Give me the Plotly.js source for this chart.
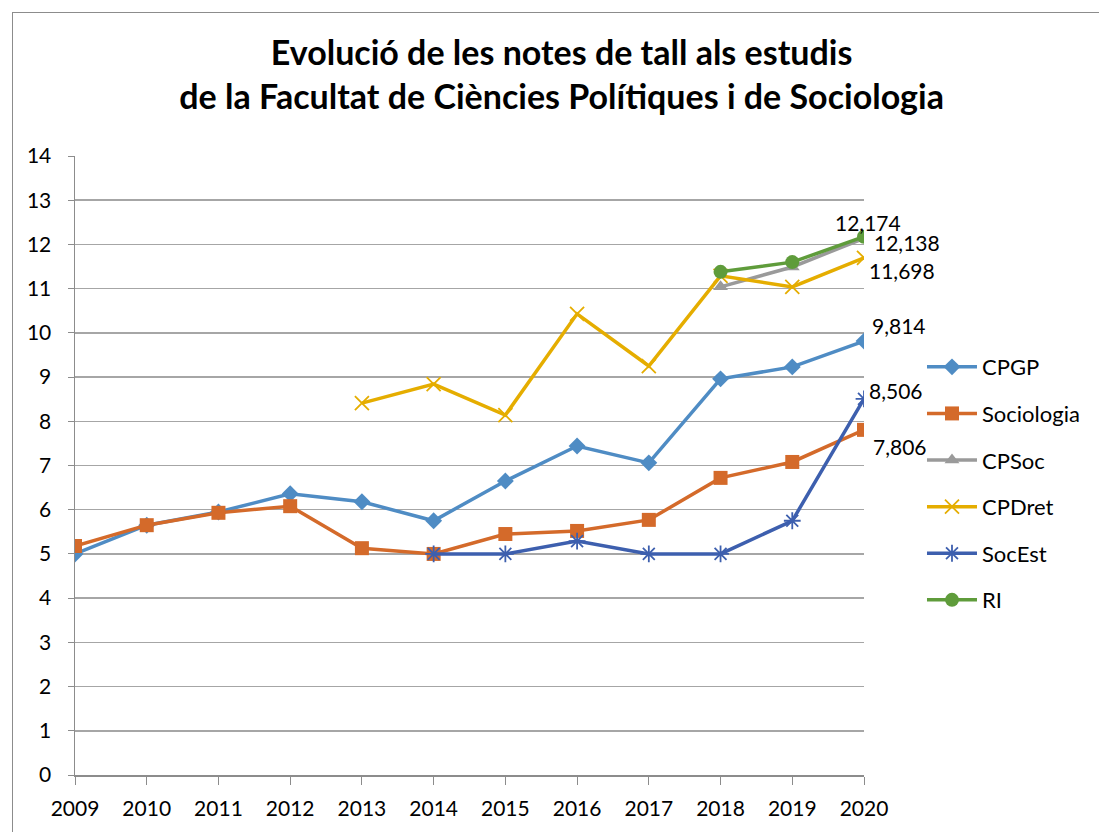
<!DOCTYPE html>
<html>
<head>
<meta charset="utf-8">
<script src="https://cdn.plot.ly/plotly-3.0.1.min.js"></script>
<style>
html,body{margin:0;padding:0;background:#fff;overflow:hidden;}
#frame{position:absolute;left:12px;top:12px;width:1100px;height:830px;border:1px solid #8c8c8c;box-sizing:border-box;}
#chart{position:absolute;left:0;top:0;width:1099px;height:832px;}
</style>
</head>
<body>
<div id="frame"></div>
<div id="chart"></div>
<script>
const years = [2009,2010,2011,2012,2013,2014,2015,2016,2017,2018,2019,2020];
const seriesNames = ['CPGP','Sociologia','CPSoc','CPDret','SocEst','RI'];
const cpgp       = [5.0, 5.65, 5.95, 6.36, 6.18, 5.75, 6.65, 7.44, 7.06, 8.96, 9.23, 9.814];
const sociologia = [5.18, 5.65, 5.93, 6.08, 5.13, 5.0, 5.45, 5.52, 5.77, 6.72, 7.08, 7.806];
const cpsoc      = [null,null,null,null,null,null,null,null,null, 11.04, 11.49, 12.138];
const cpdret     = [null,null,null,null, 8.41, 8.84, 8.14, 10.43, 9.25, 11.29, 11.04, 11.698];
const socest     = [null,null,null,null,null, 5.0, 5.0, 5.29, 5.0, 5.0, 5.75, 8.506];
const ri         = [null,null,null,null,null,null,null,null,null, 11.38, 11.6, 12.174];
const yTicks = [0,1,2,3,4,5,6,7,8,9,10,11,12,13,14];

const FONT = 'Lato, "Open Sans", "DejaVu Sans", sans-serif';
const styles = [
  {color:'#4f8cc4', symbol:'diamond', size:13},
  {color:'#d46a2a', symbol:'square', size:14},
  {color:'#9a9a9a', symbol:'triangle-up', size:13},
  {color:'#e5ad00', symbol:'x-thin-open', size:14},
  {color:'#3d5fae', symbol:'asterisk-open', size:14},
  {color:'#5f9c3b', symbol:'circle', size:14}
];
const data = [cpgp, sociologia, cpsoc, cpdret, socest, ri];
const traces = data.map((ys,i)=>({
  type:'scatter', mode:'lines+markers', name:seriesNames[i],
  x:years, y:ys, legendgroup:'g'+i,
  line:{color:styles[i].color, width:3.5},
  marker:{symbol:styles[i].symbol, size:styles[i].size, color:styles[i].color,
          line:{color:styles[i].color, width:(styles[i].symbol.indexOf('open')>=0?1.8:0)}},
  connectgaps:false
}));

// label offsets for last-point labels (order: CPGP, Sociologia, CPSoc, CPDret, SocEst, RI)
const labelPos = [
  {xanchor:'left', xshift:6, yshift:16},
  {xanchor:'left', xshift:7, yshift:-17},
  {xanchor:'left', xshift:8, yshift:-4},
  {xanchor:'left', xshift:3, yshift:-13},
  {xanchor:'left', xshift:3, yshift:8},
  {xanchor:'center', xshift:4, yshift:14}
];
const fmt = v => v.toFixed(3).replace('.', ',');
const annotations = data.map((ys,i)=>{
  const v = ys[ys.length-1];
  return {x:years[years.length-1], y:v, xref:'x', yref:'y', text:fmt(v), showarrow:false,
    xanchor:labelPos[i].xanchor, yanchor:'middle', xshift:labelPos[i].xshift, yshift:labelPos[i].yshift,
    font:{family:FONT, size:21, color:'#000'}};
});

const layout = {
  width:1099, height:832,
  margin:{l:75, r:235, t:156, b:57, pad:0},
  paper_bgcolor:'rgba(0,0,0,0)', plot_bgcolor:'rgba(0,0,0,0)',
  title:{text:'<b>Evolució de les notes de tall als estudis<br>de la Facultat de Ciències Polítiques i de Sociologia</b>',
    font:{family:FONT, size:34, color:'#000'}, x:0.511, xref:'container', xanchor:'center',
    y:0.922, yref:'container', yanchor:'top'},
  font:{family:FONT, size:21, color:'#000'},
  xaxis:{type:'linear', range:[2009,2020], tickmode:'array', tickvals:years, ticktext:years.map(String),
    showgrid:false, zeroline:false, showline:true, linecolor:'#8c8c8c', linewidth:1.5,
    ticks:'outside', ticklen:8, tickcolor:'#8c8c8c', ticklabelstandoff:6,
    tickfont:{family:FONT, size:21, color:'#000'}},
  yaxis:{range:[0,14], tickmode:'array', tickvals:yTicks, ticktext:yTicks.map(String),
    showgrid:true, gridcolor:'#a6a6a6', gridwidth:1.5, zeroline:false,
    showline:true, linecolor:'#8c8c8c', linewidth:1.5,
    ticks:'outside', ticklen:6, tickcolor:'#8c8c8c', ticklabelstandoff:12,
    tickfont:{family:FONT, size:21, color:'#000'}},
  showlegend:true,
  legend:{x:1.0735, xref:'paper', xanchor:'left', y:0.693, yanchor:'top',
    font:{family:FONT, size:22, color:'#000'}, tracegroupgap:15, itemwidth:50,
    bgcolor:'rgba(0,0,0,0)'},
  annotations:annotations
};
Plotly.newPlot('chart', traces, layout, {displayModeBar:false, staticPlot:true});
</script>
</body>
</html>
